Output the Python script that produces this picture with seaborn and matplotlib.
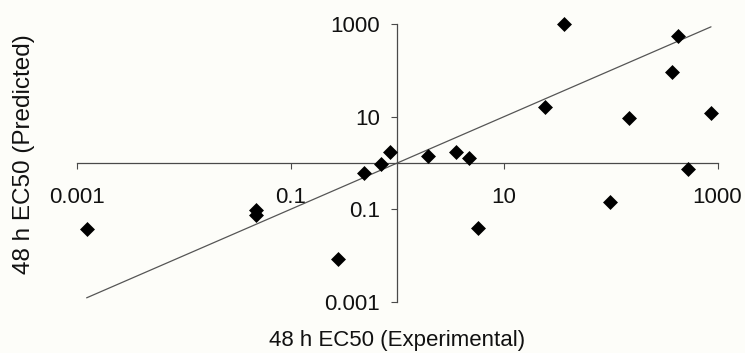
import matplotlib
matplotlib.use("Agg")
import matplotlib.pyplot as plt
import seaborn as sns
import pandas as pd

# (log-log, axes crossing at 1)
experimental = [0.00123, 0.0475, 0.0475, 0.28, 0.488, 0.705, 0.855, 1.95, 3.53,
                4.73, 5.74, 24.2, 36.5, 98.4, 148, 377, 430, 526, 869]
predicted = [0.037, 0.099, 0.077, 0.0083, 0.60, 0.937, 1.75, 1.44, 1.75,
             1.26, 0.040, 15.9, 1000, 0.146, 9.2, 93.5, 551, 0.742, 11.8]
tick_values = [0.001, 0.1, 10, 1000]
tick_labels = ["0.001", "0.1", "10", "1000"]

df = pd.DataFrame({"experimental": experimental, "predicted": predicted})
# line of unity across the range of the data
unity = pd.DataFrame({"x": [min(experimental), max(experimental)]})
unity["y"] = unity["x"]

sns.set_style("white")
plt.rcParams["font.family"] = ["Liberation Sans", "DejaVu Sans"]

fig = plt.figure(figsize=(7.45, 3.53), dpi=100, facecolor="#fdfdf9")
ax = fig.add_axes([0.1034, 0.1445, 0.8597, 0.7875])
ax.set_facecolor("#fdfdf9")

sns.lineplot(data=unity, x="x", y="y", ax=ax, color="#555555", lw=0.9)
sns.scatterplot(data=df, x="experimental", y="predicted", ax=ax, marker="D",
                color="black", s=58, linewidth=0, clip_on=False, zorder=3)

ax.set_xscale("log")
ax.set_yscale("log")
ax.set_xlim(0.001, 1000)
ax.set_ylim(0.001, 1000)

# axes cross at 1
for side in ["top", "right"]:
    ax.spines[side].set_visible(False)
ax.spines["left"].set_position(("data", 1))
ax.spines["bottom"].set_position(("data", 1))
for side in ["left", "bottom"]:
    ax.spines[side].set_color("#4a4a4a")
    ax.spines[side].set_linewidth(0.9)

ax.set_xticks(tick_values)
ax.set_xticklabels(tick_labels)
ax.set_yticks(tick_values)
ax.set_yticklabels(tick_labels)
ax.minorticks_off()
ax.tick_params(axis="x", bottom=True, direction="out", length=4.5, width=0.8,
               color="#4a4a4a", pad=13, labelsize=16, labelcolor="#111111")
ax.tick_params(axis="y", left=True, direction="out", length=4.5, width=0.8,
               color="#4a4a4a", pad=8, labelsize=16, labelcolor="#111111")

ax.set_xlabel("48 h EC50 (Experimental)", fontsize=16, color="#111111", va="center")
ax.set_ylabel("48 h EC50 (Predicted)", fontsize=17.5, color="#111111", va="center")
ax.xaxis.set_label_coords(0.499, -0.137)
ax.yaxis.set_label_coords(-0.083, 0.532)

fig.savefig("out.png", dpi=100, facecolor=fig.get_facecolor())
